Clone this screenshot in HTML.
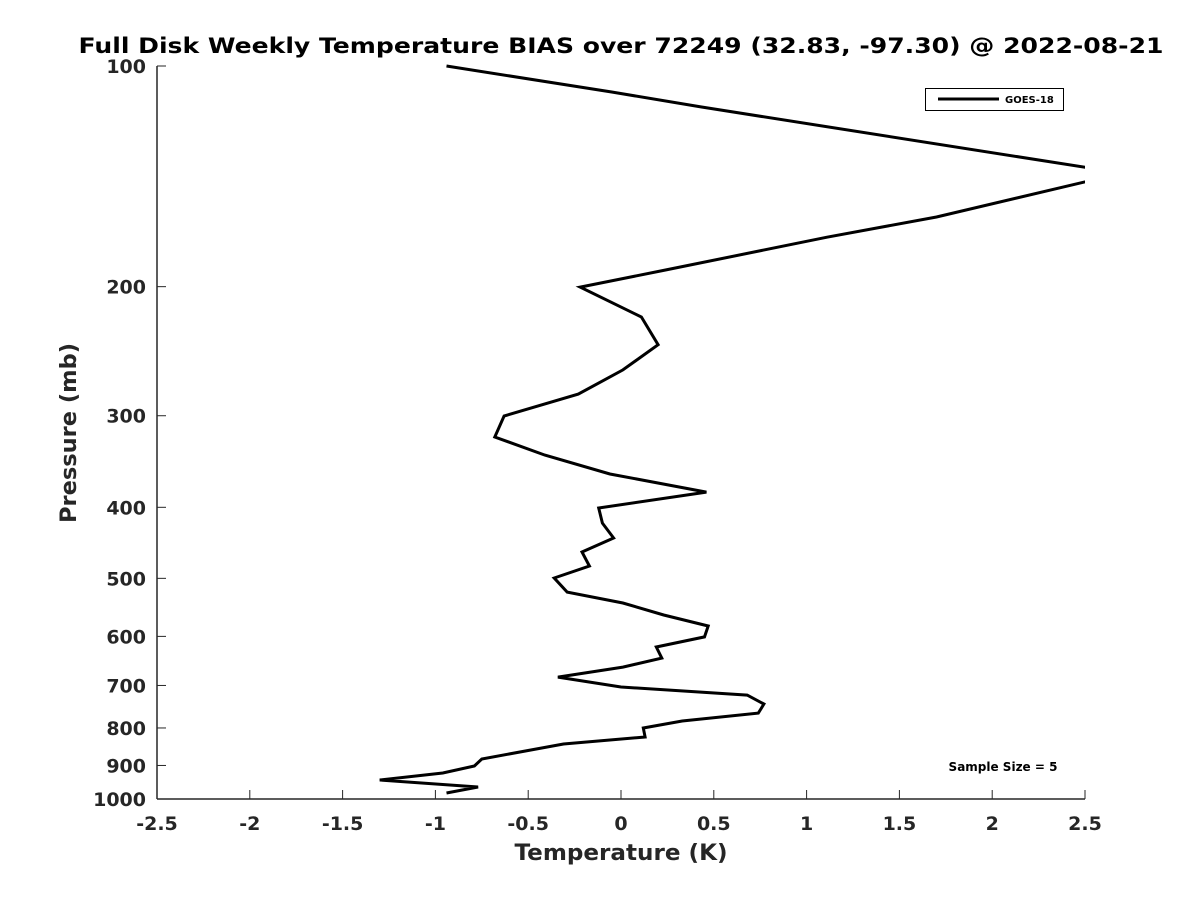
<!DOCTYPE html>
<html><head><meta charset="utf-8"><style>
body{margin:0;background:#fff;}
svg{display:block;font-family:"DejaVu Sans","Liberation Sans",sans-serif;font-weight:bold;}
</style></head><body>
<svg id="chart" width="1200" height="900" viewBox="0 0 1200 900">
<rect width="1200" height="900" fill="#fff"/>
<text x="621" y="53" text-anchor="middle" font-size="21" textLength="1085" lengthAdjust="spacingAndGlyphs" fill="#000">Full Disk Weekly Temperature BIAS over 72249 (32.83, -97.30) @ 2022-08-21</text>
<defs><clipPath id="plotclip"><rect x="157" y="60" width="928" height="745"/></clipPath></defs>
<g id="axes"></g>
<g id="series" clip-path="url(#plotclip)"></g>
<g>
<rect x="925.5" y="88.5" width="138" height="22" fill="#fff" stroke="#000" stroke-width="1"/>
<line x1="938" y1="99" x2="999" y2="99" stroke="#000" stroke-width="3"/>
<text x="1005" y="103" font-size="10" fill="#000">GOES-18</text>
</g>
<text x="1003" y="771" text-anchor="middle" font-size="12" fill="#000">Sample Size = 5</text>
<text x="621" y="860" text-anchor="middle" font-size="22" textLength="213" lengthAdjust="spacingAndGlyphs" fill="#262626">Temperature (K)</text>
<text transform="translate(76,433) rotate(-90)" text-anchor="middle" font-size="22" textLength="180" lengthAdjust="spacingAndGlyphs" fill="#262626">Pressure (mb)</text>
</svg>
<script>
const temps=[-0.94,-0.05,0.43,2.70,1.70,1.11,0.24,-0.22,0.11,0.20,0.01,-0.23,-0.63,-0.68,-0.41,-0.06,0.46,-0.12,-0.10,-0.04,-0.21,-0.17,-0.36,-0.29,0.01,0.23,0.47,0.45,0.19,0.22,0.01,-0.34,0.00,0.68,0.77,0.74,0.33,0.12,0.13,-0.31,-0.75,-0.79,-0.96,-1.30,-0.77,-0.94];
const pressures=[100,108.5,113.7,140,160.7,171.2,189.8,200.3,220,240,259.8,280.3,300.3,320.7,339.5,360.3,381.3,400.9,420.3,440.5,460.3,481,499.4,522,540.3,561,580.7,601,620.4,642.3,660.7,681.8,703.5,721.5,742,763.4,782.8,800.1,823.1,841.4,882,901.6,921.6,942,962.9,981.3];
const xTicks=[-2.5,-2,-1.5,-1,-0.5,0,0.5,1,1.5,2,2.5];
const xTickLabels=["-2.5","-2","-1.5","-1","-0.5","0","0.5","1","1.5","2","2.5"];
const yTicks=[100,200,300,400,500,600,700,800,900,1000];
const yTickLabels=["100","200","300","400","500","600","700","800","900","1000"];
const NS="http://www.w3.org/2000/svg";
const X0=157,X1=1085,Y0=66,Y1=799,XMIN=-2.5,XMAX=2.5;
function xs(v){return X0+(v-XMIN)/(XMAX-XMIN)*(X1-X0);}
function ys(p){return Y0+(Math.log10(p)-2)*(Y1-Y0);}
const axes=document.getElementById('axes');
function mk(tag,attrs,parent){const e=document.createElementNS(NS,tag);for(const k in attrs)e.setAttribute(k,attrs[k]);parent.appendChild(e);return e;}
let l=mk('line',{x1:X0,y1:Y0,x2:X0,y2:Y1,stroke:'#262626','stroke-width':1.5},axes);


l=mk('line',{x1:X0,y1:Y1,x2:X1,y2:Y1,stroke:'#262626','stroke-width':1.5},axes);


xTicks.forEach((v,i)=>{
 const x=xs(v);
 const t=mk('line',{x1:x,y1:Y1,x2:x,y2:Y1-9,stroke:'#262626','stroke-width':1},axes);
 
 
 const tx=mk('text',{x:x,y:830,'text-anchor':'middle','font-size':19,fill:'#262626'},axes);
 tx.textContent=xTickLabels[i];
 
 
});
yTicks.forEach((p,i)=>{
 const y=ys(p);
 const t=mk('line',{x1:X0,y1:y,x2:X0+9,y2:y,stroke:'#262626','stroke-width':1},axes);
 
 
 const tx=mk('text',{x:146,y:y+7,'text-anchor':'end','font-size':19,fill:'#262626'},axes);
 tx.textContent=yTickLabels[i];
 
 
});
const pts=temps.map((t,i)=>xs(t).toFixed(1)+','+ys(pressures[i]).toFixed(1)).join(' ');
const line=mk('polyline',{points:pts,fill:'none',stroke:'#000','stroke-width':3,'stroke-linejoin':'miter'},document.getElementById('series'));


</script>
</body></html>
